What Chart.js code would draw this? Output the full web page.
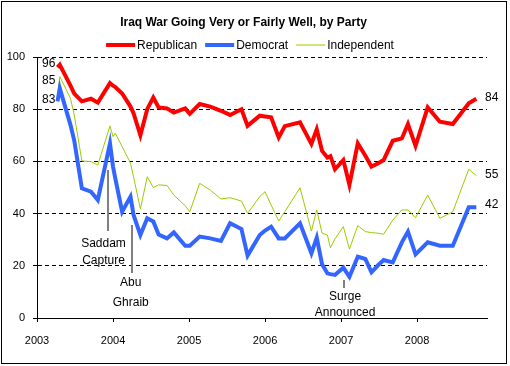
<!DOCTYPE html>
<html>
<head>
<meta charset="utf-8">
<script src="https://cdn.jsdelivr.net/npm/chart.js@4.4.0/dist/chart.umd.min.js"></script>
<style>
  html, body { margin: 0; padding: 0; background: #fff; }
</style>
</head>
<body>
<canvas id="chart" width="510" height="366"></canvas>
<script>
// survey dates as decimal years
const surveyDates = [2003.27, 2003.30, 2003.44, 2003.49, 2003.59, 2003.71, 2003.80, 2003.96, 2004.00, 2004.03,
  2004.12, 2004.23, 2004.27, 2004.36, 2004.45, 2004.53, 2004.60, 2004.71, 2004.80, 2004.95,
  2005.01, 2005.14, 2005.28, 2005.42, 2005.54, 2005.69, 2005.77, 2005.93, 2006.00, 2006.08,
  2006.18, 2006.26, 2006.46, 2006.61, 2006.68, 2006.75, 2006.82, 2006.86, 2006.92, 2007.03,
  2007.11, 2007.22, 2007.32, 2007.40, 2007.49, 2007.56, 2007.68, 2007.80, 2007.88, 2007.98,
  2008.14, 2008.30, 2008.47, 2008.68, 2008.78];

const republican = [96, 97, 89, 86, 83, 84, 82.5, 90, 89, 88.5,
  86, 81, 78.5, 70, 80, 84.5, 80.7, 80.3, 78.7, 80.3,
  78.2, 82, 81, 79.4, 77.8, 80, 73.6, 77.5, 77.2, 76.9,
  69.2, 73.5, 75, 66.7, 72.3, 64, 61.5, 62, 57, 60.5,
  51, 66.9, 62.2, 58, 59.3, 60.5, 67.9, 68.8, 74.3, 65.9,
  80.7, 75.2, 74.3, 82.3, 84];

const democrat = [83, 88, 74, 68, 49.7, 48.4, 45.2, 66.9, 58, 53.5,
  40.7, 46.5, 39.5, 31.8, 38.2, 37, 32, 30.5, 32.8, 27.7,
  27.7, 31.2, 30.5, 29.5, 36.3, 34.1, 23.9, 31.8, 33.5, 35,
  30.5, 30.5, 36.3, 24.8, 30.8, 20.6, 17.1, 16.8, 16.5, 19.3,
  15.8, 23.5, 22.6, 17.5, 20.3, 22.2, 21.3, 29, 33.1, 24.4,
  29, 27.7, 27.7, 42.4, 42.4];

const independent = [85, 92.5, 84.2, 77.8, 60.2, 59.9, 58.6, 73.6, 69.5, 70.8,
  65.7, 59.3, 54.1, 41.8, 54.1, 50, 51, 50.8, 47.1, 43,
  40.7, 51.6, 49, 45.6, 46.1, 44.8, 40.1, 46.5, 48.4, 43.3,
  37.2, 40.7, 49.9, 33.3, 41.4, 32.5, 31.8, 26.9, 30.3, 35,
  26.4, 35.4, 33.1, 32.7, 32.5, 32.1, 37.5, 41.4, 41.4, 38.4,
  47.1, 38.2, 40.7, 57, 54.5];

const startLabels = ['96', '85', '83'];
const endLabels = ['84', '55', '42'];
const eventNames = [['Saddam', 'Capture'], ['Abu', 'Ghraib'], ['Surge', 'Announced']];
const eventDates = [2003.93, 2004.246, 2007.04];

const FONT = '"Liberation Sans", Arial, sans-serif';

function points(values) {
  return surveyDates.map((d, i) => ({ x: d, y: values[i] }));
}

// frame, legend, value labels and event notes
const overlay = {
  id: 'overlay',
  afterDraw(chart) {
    const ctx = chart.ctx;
    const xs = chart.scales.x, ys = chart.scales.y;
    ctx.save();

    ctx.strokeStyle = '#000';
    ctx.lineWidth = 1;
    ctx.strokeRect(1.5, 1.5, 505, 362);

    // legend
    ctx.font = '12px ' + FONT;
    ctx.textBaseline = 'middle';
    ctx.textAlign = 'left';
    const items = chart.data.datasets;
    const lineLen = 29, gap = 2, spacing = 8;
    let total = 0;
    items.forEach(ds => { total += lineLen + gap + ctx.measureText(ds.label).width; });
    total += spacing * (items.length - 1);
    let lx = 250 - total / 2;
    const ly = 45;
    items.forEach(ds => {
      ctx.strokeStyle = ds.borderColor;
      ctx.lineWidth = ds.borderWidth;
      ctx.beginPath();
      ctx.moveTo(lx, ly);
      ctx.lineTo(lx + lineLen, ly);
      ctx.stroke();
      ctx.fillStyle = '#000';
      ctx.fillText(ds.label, lx + lineLen + gap, ly + 1);
      lx += lineLen + gap + ctx.measureText(ds.label).width + spacing;
    });

    // start / end values
    const startY = [97.3, 90.8, 83.5];
    const endY = [84.3, 54.8, 43.3];
    startLabels.forEach((t, i) => {
      ctx.fillText(t, xs.getPixelForValue(2003.066), ys.getPixelForValue(startY[i]));
    });
    endLabels.forEach((t, i) => {
      ctx.fillText(t, xs.getPixelForValue(2008.895), ys.getPixelForValue(endY[i]));
    });

    // event notes
    const lineSpan = [[56.7, 33.3], [35.6, 17.2], [14.6, 11.5]];
    const textShift = [-0.055, -0.013, 0.013];
    const textY = [[28.4, 22.0], [13.4, 5.7], [8.0, 1.9]];
    ctx.strokeStyle = '#808080';
    ctx.lineWidth = 2;
    ctx.textAlign = 'center';
    eventNames.forEach((lines, i) => {
      const x = Math.round(xs.getPixelForValue(eventDates[i]));
      ctx.beginPath();
      ctx.moveTo(x, ys.getPixelForValue(lineSpan[i][0]));
      ctx.lineTo(x, ys.getPixelForValue(lineSpan[i][1]));
      ctx.stroke();
      const tx = xs.getPixelForValue(eventDates[i] + textShift[i]);
      lines.forEach((t, j) => ctx.fillText(t, tx, ys.getPixelForValue(textY[i][j])));
    });
    ctx.restore();
  }
};

new Chart(document.getElementById('chart'), {
  type: 'line',
  data: {
    datasets: [
      { label: 'Republican', data: points(republican), borderColor: '#ff0000', borderWidth: 4 },
      { label: 'Democrat', data: points(democrat), borderColor: '#3366ff', borderWidth: 4 },
      { label: 'Independent', data: points(independent), borderColor: '#99cc00', borderWidth: 1 }
    ]
  },
  options: {
    responsive: false,
    animation: false,
    layout: { padding: { left: 0, right: 23, top: 0, bottom: 0 } },
    elements: { point: { radius: 0 }, line: { tension: 0 } },
    plugins: {
      legend: { display: false },
      tooltip: { enabled: false },
      title: {
        display: true,
        text: 'Iraq War Going Very or Fairly Well, by Party',
        color: '#000',
        font: { family: FONT, size: 12, weight: 'bold', lineHeight: 1.2 },
        padding: { top: 15, bottom: 27.6 }
      }
    },
    scales: {
      x: {
        type: 'linear',
        min: 2003,
        max: 2008.92,
        afterFit(scale) { scale.height = 48; },
        grid: { drawOnChartArea: false, tickLength: 4, color: '#000' },
        border: { color: '#000', width: 1 },
        ticks: {
          stepSize: 1,
          includeBounds: false,
          padding: 12,
          color: '#000',
          font: { family: FONT, size: 11 },
          maxRotation: 0,
          callback: v => String(v)
        }
      },
      y: {
        min: 0,
        max: 100,
        afterFit(scale) { scale.width = 37; },
        grid: { color: '#000', tickLength: 4 },
        border: { color: '#000', width: 1, dash: [4, 3] },
        ticks: {
          stepSize: 20,
          padding: 8,
          color: '#000',
          font: { family: FONT, size: 11 }
        }
      }
    }
  },
  plugins: [overlay]
});
</script>
</body>
</html>
